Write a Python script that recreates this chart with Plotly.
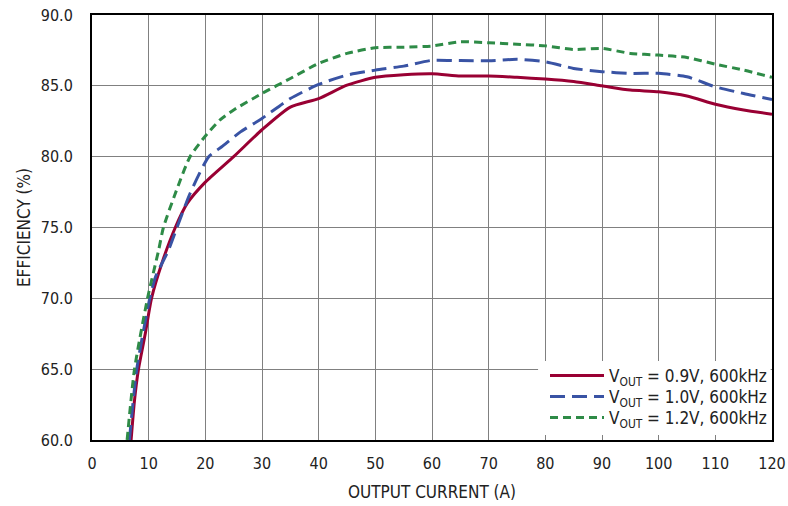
import plotly.graph_objects as go

# Output current (A) and efficiency (%) for each output voltage
i_09 = [6.9, 7.5, 8.2, 9.4, 10.5, 12.35, 14.7, 16.8, 20, 25, 30, 35, 40, 45, 50, 55, 60, 65, 70, 75, 80, 85, 90, 95, 100, 105, 110, 115, 120]
eff_09 = [60.0, 62.8, 65.0, 67.5, 70.0, 72.5, 75.0, 76.7, 78.2, 80.0, 81.9, 83.5, 84.1, 85.05, 85.6, 85.78, 85.85, 85.7, 85.7, 85.6, 85.48, 85.3, 85.0, 84.7, 84.58, 84.28, 83.7, 83.3, 83.0]

i_10 = [6.6, 7.9, 10.2, 11.2, 13.5, 15.0, 17.3, 20.6, 22.9, 26.2, 30, 35, 40, 45, 50, 55, 60, 65, 70, 75, 80, 85, 90, 95, 100, 105, 110, 115, 120]
eff_10 = [60.0, 65.0, 70.0, 71.5, 73.4, 75.0, 77.4, 80.0, 80.7, 81.75, 82.7, 84.1, 85.1, 85.76, 86.11, 86.39, 86.8, 86.78, 86.77, 86.87, 86.7, 86.23, 86.0, 85.88, 85.88, 85.64, 84.93, 84.46, 84.04]

i_12 = [6.2, 7.5, 9.8, 11.76, 12.6, 14.7, 17.3, 20.3, 22.6, 25, 30, 35, 40, 45, 50, 55, 60, 65, 70, 75, 80, 85, 90, 95, 100, 105, 110, 115, 120]
eff_12 = [60.0, 65.0, 70.0, 73.4, 75.0, 77.4, 80.0, 81.6, 82.6, 83.3, 84.46, 85.52, 86.58, 87.29, 87.69, 87.72, 87.81, 88.11, 88.04, 87.94, 87.82, 87.57, 87.64, 87.29, 87.17, 87.0, 86.53, 86.11, 85.6]

names = ["V<sub>OUT</sub> = 0.9V, 600kHz",
         "V<sub>OUT</sub> = 1.0V, 600kHz",
         "V<sub>OUT</sub> = 1.2V, 600kHz"]

x_title = "OUTPUT CURRENT (A)"
y_title = "EFFICIENCY (%)"

FONT = "DejaVu Sans Condensed, Liberation Sans Narrow, Arial Narrow, sans-serif"
TXT = "#222"

fig = go.Figure()
fig.add_trace(go.Scatter(x=i_09, y=eff_09, mode="lines", name=names[0], legend="legend",
                         showlegend=True,
                         line=dict(color="#990033", width=3, shape="spline", smoothing=0.6)))
fig.add_trace(go.Scatter(x=i_10, y=eff_10, mode="lines", name=names[1], legend="legend2",
                         showlegend=True,
                         line=dict(color="#3953A4", width=3, dash="15px,7px", shape="spline", smoothing=0.6)))
fig.add_trace(go.Scatter(x=i_12, y=eff_12, mode="lines", name=names[2], legend="legend3",
                         showlegend=True,
                         line=dict(color="#2E8B47", width=3, dash="8px,5px", shape="spline", smoothing=0.6)))

axis_common = dict(
    showgrid=True, gridcolor="#808080", gridwidth=1,
    showline=True, linecolor="black", linewidth=2, mirror=True,
    zeroline=False, ticks="", automargin=False, ticklabeloverflow="allow",
    tickfont=dict(family=FONT, size=16, color=TXT),
)

fig.update_xaxes(range=[0, 120], dtick=10, tick0=0, ticklabelstandoff=8,
                 title=dict(text=x_title, font=dict(family=FONT, size=17, color=TXT), standoff=14),
                 **axis_common)
fig.update_yaxes(range=[60, 90], dtick=5, tick0=60, tickformat=".1f", ticklabelstandoff=14,
                 title=dict(text=y_title, font=dict(family=FONT, size=17, color=TXT), standoff=6),
                 **axis_common)

legend_common = dict(x=1, xanchor="right", yanchor="middle",
                     bgcolor="rgba(0,0,0,0)", borderwidth=0,
                     font=dict(family=FONT, size=17, color=TXT), itemwidth=54)

fig.update_layout(
    width=788, height=506,
    margin=dict(l=92, r=16, t=15, b=66),
    showlegend=True,
    plot_bgcolor="white", paper_bgcolor="white",
    legend=dict(y=0.1506, **legend_common),
    legend2=dict(y=0.1012, **legend_common),
    legend3=dict(y=0.0518, **legend_common),
    shapes=[dict(type="rect", xref="paper", yref="paper", x0=0.656, x1=0.998, y0=0.012, y1=0.186,
                 fillcolor="white", line=dict(width=0), layer="above")],
)

fig.write_html("out.html",
               config={"displayModeBar": False},
               post_script="document.body.style.margin='0';document.body.style.overflow='hidden';")
